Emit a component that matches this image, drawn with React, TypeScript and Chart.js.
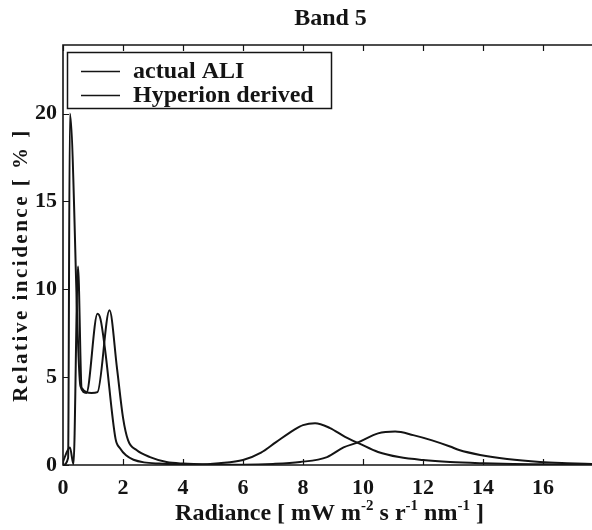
import React, { useEffect, useRef } from "react";
import { Chart, registerables } from "chart.js";

Chart.register(...registerables);

// ---- data ----
const chartTitle = "Band 5";
const legendLabels = ["actual ALI", "Hyperion derived"];
const xTickValues = [0, 2, 4, 6, 8, 10, 12, 14, 16];
const yTickValues = [0, 5, 10, 15, 20];
const xAxisMax = 17.63;
const yAxisMax = 23.9;

const aliX = [0, 0.17, 0.23, 0.58, 0.78, 1.15, 1.25, 1.4, 1.75, 1.9, 2.1, 2.35, 2.7, 3.2, 3.8, 4.5, 5.2, 6.0, 6.6, 7.1, 7.7, 8.0, 8.4, 8.9, 9.4, 9.9, 10.5, 11.2, 12.0, 12.9, 14.0, 15.0, 16.0, 17.0, 17.7];
const aliY = [0, 0.4, 20.0, 4.5, 4.1, 8.6, 8.3, 6.6, 1.5, 0.95, 0.55, 0.3, 0.15, 0.08, 0.04, 0.03, 0.1, 0.28, 0.7, 1.3, 2.0, 2.27, 2.38, 2.1, 1.6, 1.2, 0.74, 0.45, 0.28, 0.17, 0.1, 0.06, 0.04, 0.02, 0.01];

const hypX = [0, 0.23, 0.35, 0.5, 0.62, 0.95, 1.15, 1.55, 1.8, 2.0, 2.17, 2.45, 2.9, 3.45, 4.0, 5.0, 6.0, 7.0, 7.9, 8.8, 9.35, 9.85, 10.5, 11.07, 11.67, 12.3, 12.9, 13.2, 13.9, 14.8, 15.9, 16.8, 17.7];
const hypY = [0.2, 1.0, 0.05, 11.3, 4.4, 4.1, 4.15, 8.8, 5.5, 2.7, 1.4, 0.85, 0.45, 0.17, 0.08, 0.03, 0.02, 0.06, 0.17, 0.45, 1.0, 1.3, 1.8, 1.9, 1.7, 1.4, 1.05, 0.85, 0.57, 0.34, 0.17, 0.1, 0.05];

const xTitleParts: [string, boolean][] = [
  ["Radiance [ mW m", false],
  ["-2", true],
  [" s r", false],
  ["-1", true],
  [" nm", false],
  ["-1", true],
  [" ]", false],
];
const yTitle = "Relative incidence [ % ]";

const SERIF = '"Liberation Serif", "Times New Roman", serif';
const INK = "#141414";

const decorPlugin = {
  id: "decor",
  afterDraw(chart: any) {
    const ctx = chart.ctx as CanvasRenderingContext2D;
    const { left, right, top, bottom } = chart.chartArea;
    const xs = chart.scales.x;
    const ys = chart.scales.y;
    ctx.save();
    ctx.strokeStyle = INK;
    ctx.fillStyle = INK;
    ctx.lineWidth = 1.6;
    // frame
    ctx.beginPath();
    ctx.moveTo(right + 2, top);
    ctx.lineTo(left, top);
    ctx.lineTo(left, bottom);
    ctx.lineTo(right + 2, bottom);
    ctx.stroke();
    // inward ticks
    ctx.lineWidth = 1.2;
    ctx.beginPath();
    for (const v of xTickValues) {
      const px = Math.round(xs.getPixelForValue(v)) + 0.5;
      ctx.moveTo(px, bottom);
      ctx.lineTo(px, bottom - 6);
      ctx.moveTo(px, top);
      ctx.lineTo(px, top + 6);
    }
    for (const v of yTickValues) {
      const py = Math.round(ys.getPixelForValue(v)) + 0.5;
      ctx.moveTo(left, py);
      ctx.lineTo(left + 6, py);
    }
    ctx.stroke();

    // title
    ctx.font = `bold 24px ${SERIF}`;
    ctx.textAlign = "center";
    ctx.textBaseline = "middle";
    ctx.fillText(chartTitle, (left + right) / 2 + 3, 19);

    // legend
    const bx = left + 4, by = top + 7, bw = 264, bh = 56;
    ctx.fillStyle = "#fff";
    ctx.fillRect(bx, by, bw, bh);
    ctx.lineWidth = 1.5;
    ctx.strokeRect(bx + 0.5, by + 0.5, bw, bh);
    ctx.fillStyle = INK;
    ctx.font = `bold 24px ${SERIF}`;
    ctx.textAlign = "left";
    legendLabels.forEach((lab, i) => {
      const cy = by + 19 + i * 24;
      ctx.lineWidth = 1.6;
      ctx.beginPath();
      ctx.moveTo(bx + 14, cy + 0.5);
      ctx.lineTo(bx + 53, cy + 0.5);
      ctx.stroke();
      ctx.fillText(lab, bx + 66, cy + 1);
    });

    // x axis title with superscripts
    const mainFont = `bold 24px ${SERIF}`;
    const supFont = `bold 15px ${SERIF}`;
    let total = 0;
    for (const [t, sup] of xTitleParts) {
      ctx.font = sup ? supFont : mainFont;
      total += ctx.measureText(t).width;
    }
    let cx = (left + right) / 2 + 2 - total / 2;
    const baseY = 520;
    ctx.textBaseline = "alphabetic";
    for (const [t, sup] of xTitleParts) {
      ctx.font = sup ? supFont : mainFont;
      ctx.fillText(t, cx, sup ? baseY - 10 : baseY);
      cx += ctx.measureText(t).width;
    }

    // y axis title
    ctx.save();
    ctx.translate(22, 265);
    ctx.rotate(-Math.PI / 2);
    ctx.font = `bold 21px ${SERIF}`;
    (ctx as any).letterSpacing = "2.5px";
    ctx.textAlign = "center";
    ctx.textBaseline = "middle";
    ctx.fillText(yTitle, 0, 0);
    ctx.restore();

    ctx.restore();
  },
};

export default function App() {
  const ref = useRef<HTMLCanvasElement | null>(null);
  useEffect(() => {
    if (!ref.current) return;
    const chart = new Chart(ref.current, {
      type: "line",
      data: {
        datasets: [
          {
            label: legendLabels[0],
            data: aliX.map((x, i) => ({ x, y: aliY[i] })),
            borderColor: INK,
            borderWidth: 2,
            pointRadius: 0,
            cubicInterpolationMode: "monotone",
            fill: false,
          },
          {
            label: legendLabels[1],
            data: hypX.map((x, i) => ({ x, y: hypY[i] })),
            borderColor: INK,
            borderWidth: 2,
            pointRadius: 0,
            cubicInterpolationMode: "monotone",
            fill: false,
          },
        ],
      },
      options: {
        responsive: false,
        animation: false,
        devicePixelRatio: 1,
        layout: { padding: { top: 45, right: 0, left: 0, bottom: 0 } },
        plugins: {
          legend: { display: false },
          title: { display: false },
          tooltip: { enabled: false },
        },
        scales: {
          x: {
            type: "linear",
            min: 0,
            max: xAxisMax,
            grid: { display: false, drawTicks: false, tickLength: 0 },
            border: { display: false },
            afterFit: (s: any) => {
              s.height = 65;
            },
            afterBuildTicks: (s: any) => {
              s.ticks = xTickValues.map((v) => ({ value: v }));
            },
            ticks: {
              color: INK,
              padding: 10,
              maxRotation: 0,
              autoSkip: false,
              font: { family: SERIF, size: 22, weight: "bold" },
            },
          },
          y: {
            type: "linear",
            min: 0,
            max: yAxisMax,
            grid: { display: false, drawTicks: false, tickLength: 0 },
            border: { display: false },
            afterFit: (s: any) => {
              s.width = 63;
            },
            afterBuildTicks: (s: any) => {
              s.ticks = yTickValues.map((v) => ({ value: v }));
            },
            ticks: {
              color: INK,
              padding: 6,
              font: { family: SERIF, size: 22, weight: "bold" },
            },
          },
        },
      },
      plugins: [decorPlugin],
    } as any);
    return () => chart.destroy();
  }, []);
  return (
    <div style={{ position: "fixed", left: 0, top: 0, width: 592, height: 530, background: "#fff" }}>
      <canvas ref={ref} width={592} height={530} style={{ display: "block" }} />
    </div>
  );
}
